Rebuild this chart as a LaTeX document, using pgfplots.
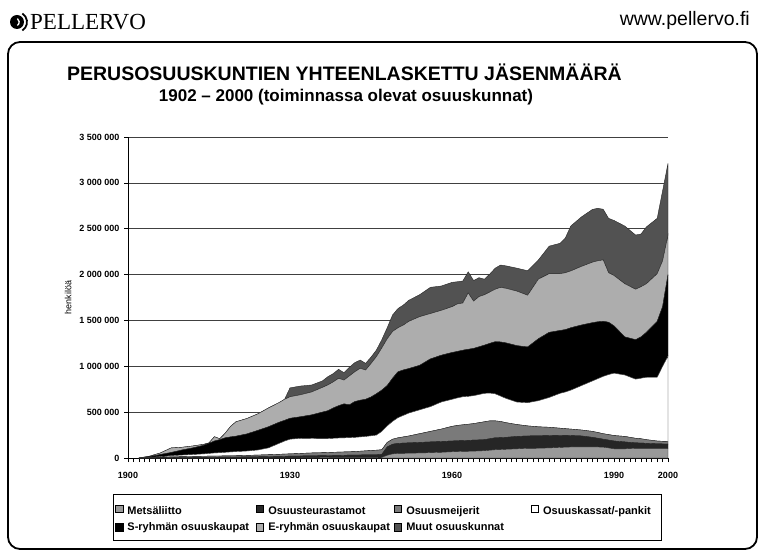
\documentclass[border=0pt]{standalone}
\usepackage{pgfplots}
\pgfplotsset{compat=1.18}
\usepackage{pgfplotstable}
\usepackage{fontspec}
\setmainfont{Liberation Sans}
\newfontfamily\logofont{Liberation Serif}
\definecolor{cMetsa}{gray}{0.60}
\definecolor{cTeur}{gray}{0.15}
\definecolor{cMeij}{gray}{0.48}
\definecolor{cKassa}{gray}{1.0}
\definecolor{cS}{gray}{0.0}
\definecolor{cE}{gray}{0.68}
\definecolor{cMuut}{gray}{0.32}
% values in thousands of members
\pgfplotstableread{
year A B C D S E G
1902 0 0 0 0 0 0 0
1904 0 1 2 3 8 6 0
1906 0 2 6 7 23 17 0
1908 0 3 9 13 35 50 0
1910 0 5 10 17 55 30 0
1912 0 6 11 21 72 21 0
1914 0 7 12 26 93 11 0
1915 0 8 12 30 110 5 0
1916 0 8 13 34 130 47 0
1917 0 9 13 36 142 10 0
1918 0 10 13 39 158 50 0
1919 0 10 14 42 164 115 0
1920 0 11 14 45 168 157 0
1922 0 12 16 48 186 168 0
1924 0 14 18 55 213 180 0
1926 0 16 20 74 230 205 0
1928 0 18 22 120 230 215 0
1929 0 19 24 142 225 230 0
1930 0 20 25 160 228 235 97
1932 0 22 28 165 235 240 95
1934 2 22 31 158 257 250 76
1936 3 23 32 153 289 270 70
1937 3 24 33 152 303 281 90
1938 4 24 34 153 330 285 90
1939 4 25 35 154 352 299 98
1940 5 25 36 154 370 260 80
1941 5 26 37 154 358 315 95
1942 5 27 38 155 390 325 100
1943 5 28 41 156 400 348 90
1944 5 29 44 157 405 319 73
1945 5 30 47 160 423 365 70
1946 5 30 50 165 450 405 72
1947 8 32 50 200 450 460 90
1948 30 90 50 180 440 510 120
1949 45 105 55 195 470 510 180
1950 50 110 60 220 500 480 210
1951 51 111 68 235 495 490 218
1952 52 113 75 250 485 515 230
1954 55 115 95 260 485 531 239
1956 58 117 115 270 520 495 286
1958 62 118 135 295 510 490 265
1960 68 117 160 295 510 500 265
1961 70 118 167 300 507 518 242
1962 72 118 172 306 507 515 240
1963 73 119 176 304 513 615 230
1964 75 120 180 305 515 515 225
1965 77 120 188 307 520 548 206
1966 80 120 195 310 525 550 170
1967 85 125 195 303 542 560 196
1968 90 130 185 295 568 572 230
1969 92 130 176 277 590 596 243
1970 95 130 160 265 605 595 245
1972 100 135 130 245 615 595 250
1974 105 135 110 253 607 565 267
1976 106 136 98 285 675 650 210
1978 110 135 90 325 710 640 300
1980 115 133 77 380 685 620 331
1981 118 129 73 400 680 620 380
1982 120 125 70 425 680 620 490
1984 122 118 65 485 660 640 540
1986 122 103 65 550 635 660 575
1987 120 95 63 587 620 665 573
1988 118 87 60 625 600 670 552
1989 110 85 60 655 570 540 593
1990 100 85 60 680 515 550 600
1992 100 75 60 670 415 580 629
1994 105 60 50 645 430 550 591
1995 105 58 47 660 450 548 574
1996 105 55 40 680 490 530 620
1998 105 50 30 695 610 520 603
1999 105 48 29 818 650 500 763
2000 105 47 28 930 890 431 782
}\jdata
\newcommand{\legA}[2]{\makebox[#1][l]{\rule{0pt}{12pt}\hspace*{2.5pt}#2}}
\newcommand{\legB}[2]{\makebox[#1][l]{\hspace*{2.5pt}#2}}
\begin{document}
\begin{tikzpicture}
\useasboundingbox (0pt,0pt) rectangle (763pt,555pt);
\fill[white] (0pt,0pt) rectangle (763pt,555pt);
% frame
\draw[line width=1.8pt, rounded corners=12pt] (8pt,513pt) rectangle (757pt,6pt);
% logo
\fill[black] (17pt,533pt) circle (7pt);
\draw[white, line width=1.3pt] (15pt,533pt) ++(-55:4.2pt) arc (-55:55:4.2pt);
\draw[black, line width=1.8pt] (17pt,533pt) ++(-58:10pt) arc (-58:58:10pt);
\node[anchor=west, font=\logofont\fontsize{23}{26}\selectfont, inner sep=0pt] at (30pt,533pt) {PELLERVO};
\node[anchor=east, font=\fontsize{19.5}{22}\selectfont, inner sep=0pt] at (750pt,535pt) {www.pellervo.fi};
% titles
\node[font=\bfseries\fontsize{19.5}{22}\selectfont, inner sep=0pt] at (344.5pt,483pt) {PERUSOSUUSKUNTIEN YHTEENLASKETTU JÄSENMÄÄRÄ};
\node[font=\bfseries\fontsize{17}{20}\selectfont, inner sep=0pt] at (346pt,458pt) {1902 – 2000 (toiminnassa olevat osuuskunnat)};
\begin{axis}[
  at={(128pt,97pt)}, anchor=south west,
  scale only axis, width=540pt, height=321pt,
  xmin=1900, xmax=2000, ymin=0, ymax=3500,
  axis x line*=bottom, axis y line*=left,
  axis line style={black, line width=0.9pt},
  stack plots=y,
  ytick={0,500,1000,1500,2000,2500,3000,3500},
  yticklabels={0,500 000,1 000 000,1 500 000,2 000 000,2 500 000,3 000 000,3 500 000},
  xtick={1900,1930,1960,1990,2000},
  xticklabels={1900,1930,1960,1990,2000},
  minor xtick={1901,1902,...,1999},
  ymajorgrids,
  grid style={black!75, line width=0.7pt},
  tick align=outside,
  major tick length=4pt, minor tick length=4pt,
  tick style={black, line width=0.6pt},
  yticklabel style={font=\bfseries\fontsize{9}{10}\selectfont, xshift=-1pt},
  xticklabel style={font=\bfseries\fontsize{9}{10}\selectfont, yshift=-7pt},
  ylabel={henkilöä},
  ylabel style={font=\fontsize{9}{10}\selectfont, at={(axis description cs:-0.111,0.5)}, anchor=center},
  legend style={at={(axis description cs:-0.0285,-0.1121)}, anchor=north west,
    legend columns=4, draw=black, line width=0.9pt,
    font=\bfseries\fontsize{11}{12}\selectfont,
    inner xsep=2pt, inner ysep=6pt, row sep=3pt,
    /tikz/every even column/.append style={column sep=0pt}},
  legend cell align=left,
  legend image code/.code={\draw[#1, draw=black, line width=0.4pt] (0pt,-3.3pt) rectangle (7.5pt,4.2pt);},
  every axis plot/.append style={draw=black!85, line width=0.4pt},
]
\addplot[fill=cMetsa] table[x=year,y=A]{\jdata} \closedcycle;
\addlegendentry{\legA{129pt}{Metsäliitto}}
\addplot[fill=cTeur] table[x=year,y=B]{\jdata} \closedcycle;
\addlegendentry{\legA{126pt}{Osuusteurastamot}}
\addplot[fill=cMeij] table[x=year,y=C]{\jdata} \closedcycle;
\addlegendentry{\legA{125pt}{Osuusmeijerit}}
\addplot[fill=cKassa] table[x=year,y=D]{\jdata} \closedcycle;
\addlegendentry{\legA{117pt}{Osuuskassat/-pankit}}
\addplot[fill=cS] table[x=year,y=S]{\jdata} \closedcycle;
\addlegendentry{\legB{129pt}{S-ryhmän osuuskaupat}}
\addplot[fill=cE] table[x=year,y=E]{\jdata} \closedcycle;
\addlegendentry{\legB{126pt}{E-ryhmän osuuskaupat}}
\addplot[fill=cMuut] table[x=year,y=G]{\jdata} \closedcycle;
\addlegendentry{\legB{125pt}{Muut osuuskunnat}}
\end{axis}
\end{tikzpicture}
\end{document}
